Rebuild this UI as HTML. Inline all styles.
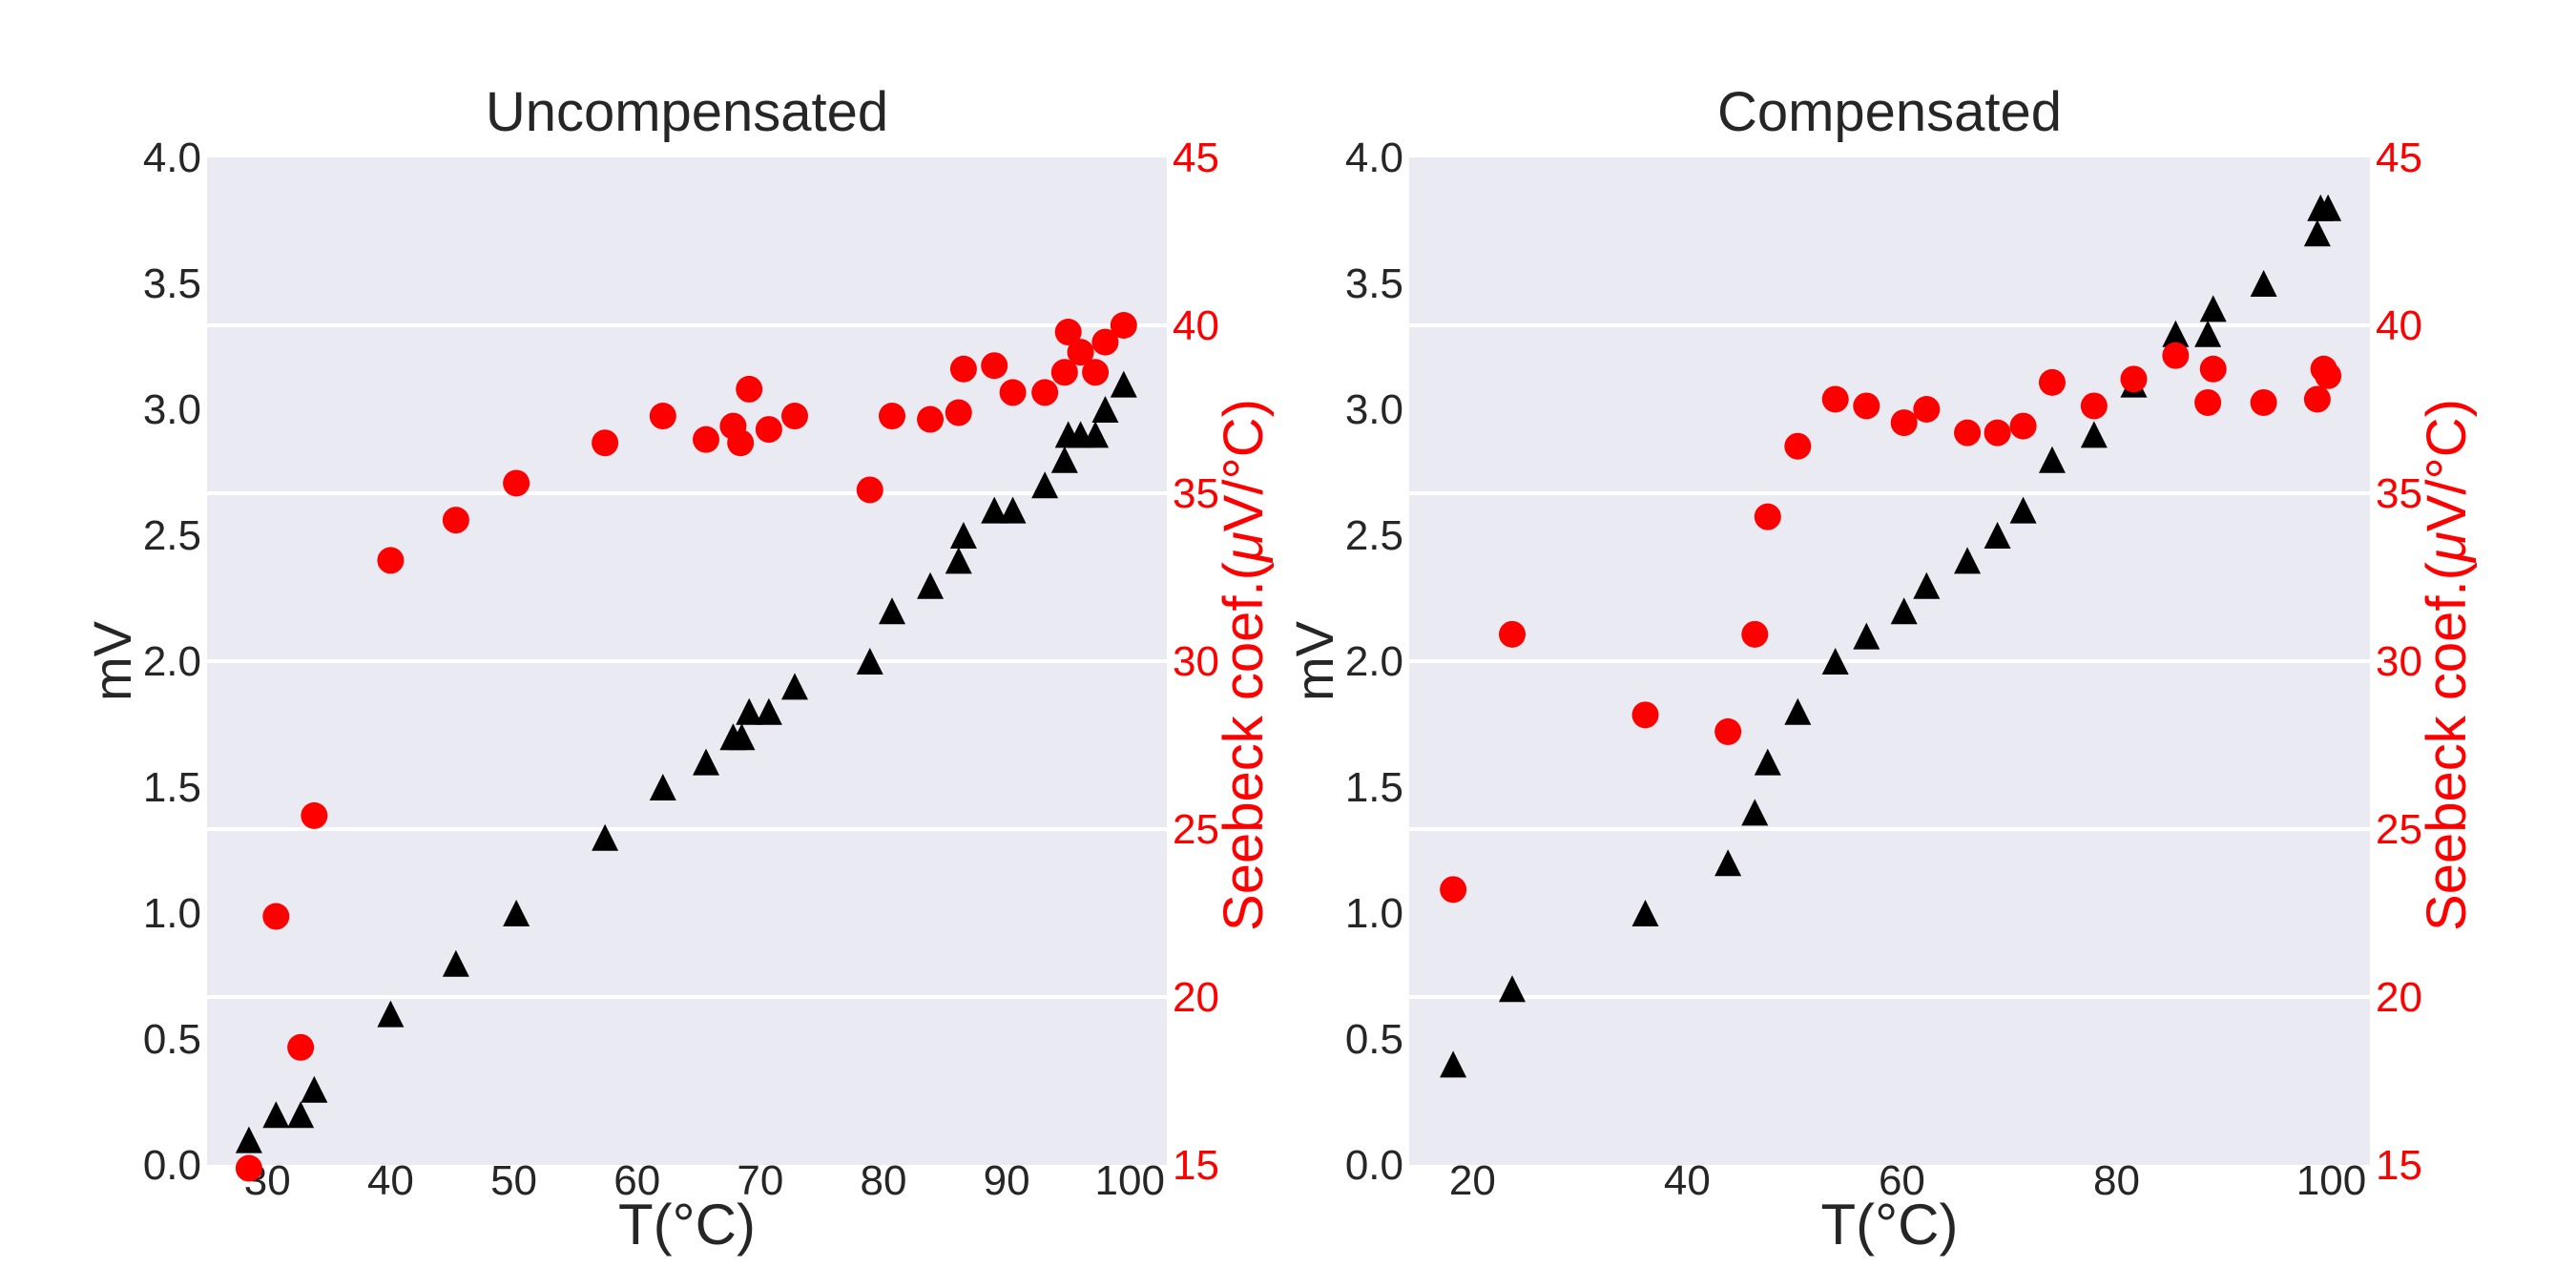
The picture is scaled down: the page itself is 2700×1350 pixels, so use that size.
<!DOCTYPE html>
<html><head><meta charset="utf-8"><style>
html,body{margin:0;padding:0;background:#fff;}
svg{display:block;font-family:"Liberation Sans",Arial,sans-serif;}
</style></head><body>
<svg id="fig" width="2700" height="1350" viewBox="0 0 2700 1350" xmlns="http://www.w3.org/2000/svg"></svg>
<script>
// Uncompensated data
const uncompT = [28.5,30.7,32.7,33.8,40.0,45.3,50.2,57.4,62.1,65.6,67.8,68.5,69.1,70.7,72.8,78.9,80.7,83.8,86.1,86.5,89.0,90.5,93.1,94.7,95.0,96.0,97.2,98.0,99.5];
const uncompMV = [0.1,0.2,0.2,0.3,0.6,0.8,1.0,1.3,1.5,1.6,1.7,1.7,1.8,1.8,1.9,2.0,2.2,2.3,2.4,2.5,2.6,2.6,2.7,2.8,2.9,2.9,2.9,3.0,3.1];
const uncompST = [28.5,30.7,32.7,33.8,40.0,45.3,50.2,57.4,62.1,65.6,67.8,68.4,69.1,70.7,72.8,78.9,80.7,83.8,86.1,86.5,89.0,90.5,93.1,94.7,95.0,96.0,97.2,98.0,99.5];
const uncompS = [14.9,22.4,18.5,25.4,33.0,34.2,35.3,36.5,37.3,36.6,37.0,36.5,38.1,36.9,37.3,35.1,37.3,37.2,37.4,38.7,38.8,38.0,38.0,38.6,39.8,39.2,38.6,39.5,40.0];
// Compensated data
const compT = [18.2,23.7,36.1,43.8,46.3,47.5,50.3,53.8,56.7,60.2,62.3,66.1,68.9,71.3,74.0,77.9,81.6,85.5,88.5,89.0,93.7,98.7,99.0,99.7];
const compMV = [0.4,0.7,1.0,1.2,1.4,1.6,1.8,2.0,2.1,2.2,2.3,2.4,2.5,2.6,2.8,2.9,3.1,3.3,3.3,3.4,3.5,3.7,3.8,3.8];
const compST = [18.2,23.7,36.1,43.8,46.3,47.5,50.3,53.8,56.7,60.2,62.3,66.1,68.9,71.3,74.0,77.9,81.6,85.5,88.5,89.0,93.7,98.7,99.3,99.7];
const compS = [23.2,30.8,28.4,27.9,30.8,34.3,36.4,37.8,37.6,37.1,37.5,36.8,36.8,37.0,38.3,37.6,38.4,39.1,37.7,38.7,37.7,37.8,38.7,38.5];
const mvTicks = ["0.0","0.5","1.0","1.5","2.0","2.5","3.0","3.5","4.0"];
const sTicks = ["15","20","25","30","35","40","45"];
const uncompXTicks = [30,40,50,60,70,80,90,100];
const compXTicks = [20,40,60,80,100];

const NS="http://www.w3.org/2000/svg";
const svg=document.getElementById('fig');
function mk(tag,attrs,parent){const e=document.createElementNS(NS,tag);for(const k in attrs)e.setAttribute(k,attrs[k]);(parent||svg).appendChild(e);return e;}

function panel(key,title,x0,x1,xmin,xmax,xticks,T,MV,ST,S){
  const y0=165,y1=1221;
  const g=mk('g',{});
  
  
  const xs=v=>x0+(v-xmin)/(xmax-xmin)*(x1-x0);
  const ymv=v=>y1-(v-0)/4*(y1-y0);
  const ys=v=>y1-(v-15)/30*(y1-y0);
  const bg=mk('rect',{x:x0,y:y0,width:x1-x0,height:y1-y0,fill:'#EAEAF2'},g);
  
  
  sTicks.forEach(t=>{const v=+t;const y=ys(v);
    if(v>15&&v<45){const l=mk('line',{x1:x0,x2:x1,y1:y,y2:y,stroke:'#fff','stroke-width':4},g);
      
      }
    const tx=mk('text',{x:x1+6,y:y+15,fill:'#FF0000','font-size':44},g);tx.textContent=t;
    
    
  });
  mvTicks.forEach(t=>{const y=ymv(+t);
    const tx=mk('text',{x:x0-6,y:y+15,fill:'#262626','font-size':44,'text-anchor':'end'},g);tx.textContent=t;
    
    
  });
  xticks.forEach(t=>{const x=xs(t);
    const tx=mk('text',{x:x,y:1252,fill:'#262626','font-size':44,'text-anchor':'middle'},g);tx.textContent=t;
    
    
  });
  for(let i=0;i<T.length;i++){const cx=xs(T[i]),cy=ymv(MV[i]),r=14;
    const p=mk('polygon',{points:`${cx},${cy-r} ${cx-r},${cy+r} ${cx+r},${cy+r}`,fill:'#000'},g);
    
    
  }
  for(let i=0;i<ST.length;i++){
    const c=mk('circle',{cx:xs(ST[i]),cy:ys(S[i]),r:14,fill:'#FF0000'},g);
    
    
  }
  const xm=(x0+x1)/2;
  const ti=mk('text',{x:xm,y:137,fill:'#262626','font-size':58,'text-anchor':'middle'},g);ti.textContent=title;
  
  
  const xl=mk('text',{x:xm,y:1304,fill:'#262626','font-size':60,'text-anchor':'middle'},g);xl.textContent='T(°C)';
  
  
  const yl=mk('text',{x:0,y:0,fill:'#262626','font-size':56,'text-anchor':'middle',transform:`translate(${x0-80},${(y0+y1)/2}) rotate(-90)`},g);yl.textContent='mV';
  
  
  const yr=mk('text',{x:0,y:0,fill:'#FF0000','font-size':58,'text-anchor':'middle',transform:`translate(${x1+100},${(y0+y1)/2+4}) rotate(-90)`},g);
  yr.innerHTML='Seebeck coef.(<tspan font-style="italic">μ</tspan>V/°C)';
  
  
}
panel('uncompensated','Uncompensated',217,1223,25.1,103.0,uncompXTicks,uncompT,uncompMV,uncompST,uncompS);
panel('compensated','Compensated',1477,2484,14.1,103.6,compXTicks,compT,compMV,compST,compS);
</script>
</body></html>
